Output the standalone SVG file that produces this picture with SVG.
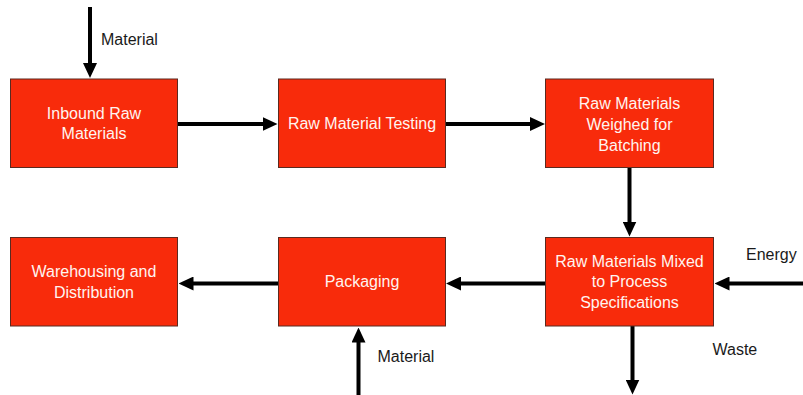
<svg xmlns="http://www.w3.org/2000/svg" width="803" height="395" viewBox="0 0 803 395">
<style>
.box{fill:#F82B0B;stroke:#5A2A20;stroke-width:1}
.bt{font-family:"Liberation Sans",Arial,sans-serif;font-size:16px;fill:#FFF4F0;text-anchor:middle}
.lb{font-family:"Liberation Sans",Arial,sans-serif;font-size:16px;fill:#1A1A1A}
.cn{stroke:#000;stroke-width:4;fill:none;marker-end:url(#ah)}
</style>
<defs>
<marker id="ah" markerUnits="userSpaceOnUse" viewBox="0 -7 15 14" markerWidth="15" markerHeight="14" refX="0.5" refY="0" orient="auto">
<path d="M0,-7 L15,0 L0,7 z" fill="#000"/>
</marker>
</defs>
<rect width="803" height="395" fill="#fff"/>
<g id="connectors">
<line class="cn" x1="90" y1="7" x2="90" y2="63.5"/>
<line class="cn" x1="177.5" y1="124" x2="263" y2="124"/>
<line class="cn" x1="445.5" y1="124" x2="530.5" y2="124"/>
<line class="cn" x1="629.5" y1="167.5" x2="629.5" y2="222"/>
<line class="cn" x1="803" y1="283.5" x2="729" y2="283.5"/>
<line class="cn" x1="632.5" y1="326" x2="632.5" y2="380"/>
<line class="cn" x1="545.5" y1="283.5" x2="460.5" y2="283.5"/>
<line class="cn" x1="278.5" y1="283.5" x2="193" y2="283.5"/>
<line class="cn" x1="358.5" y1="395" x2="358.5" y2="342"/>
</g>
<g id="labels">
<text class="lb" x="101" y="45">Material</text>
<text class="lb" x="746" y="259.5">Energy</text>
<text class="lb" x="712.5" y="355">Waste</text>
<text class="lb" x="377.5" y="361.5">Material</text>
</g>
<g id="inbound">
<rect class="box" x="10.5" y="79" width="167" height="88.5"/>
<text class="bt" x="94" y="119">Inbound Raw</text>
<text class="bt" x="94" y="139">Materials</text>
</g>
<g id="testing">
<rect class="box" x="278.5" y="79" width="167" height="88.5"/>
<text class="bt" x="362" y="129">Raw Material Testing</text>
</g>
<g id="weighed">
<rect class="box" x="545.5" y="79" width="168" height="88.5"/>
<text class="bt" x="629.5" y="108.5">Raw Materials</text>
<text class="bt" x="629.5" y="129.5">Weighed for</text>
<text class="bt" x="629.5" y="150.5">Batching</text>
</g>
<g id="mixed">
<rect class="box" x="545.5" y="237.5" width="168" height="88.5"/>
<text class="bt" x="629.5" y="266.5">Raw Materials Mixed</text>
<text class="bt" x="629.5" y="287">to Process</text>
<text class="bt" x="629.5" y="307.5">Specifications</text>
</g>
<g id="packaging">
<rect class="box" x="278.5" y="237.5" width="167" height="88.5"/>
<text class="bt" x="362" y="287">Packaging</text>
</g>
<g id="warehousing">
<rect class="box" x="10.5" y="237.5" width="167" height="88.5"/>
<text class="bt" x="94" y="277">Warehousing and</text>
<text class="bt" x="94" y="297.5">Distribution</text>
</g>
</svg>
